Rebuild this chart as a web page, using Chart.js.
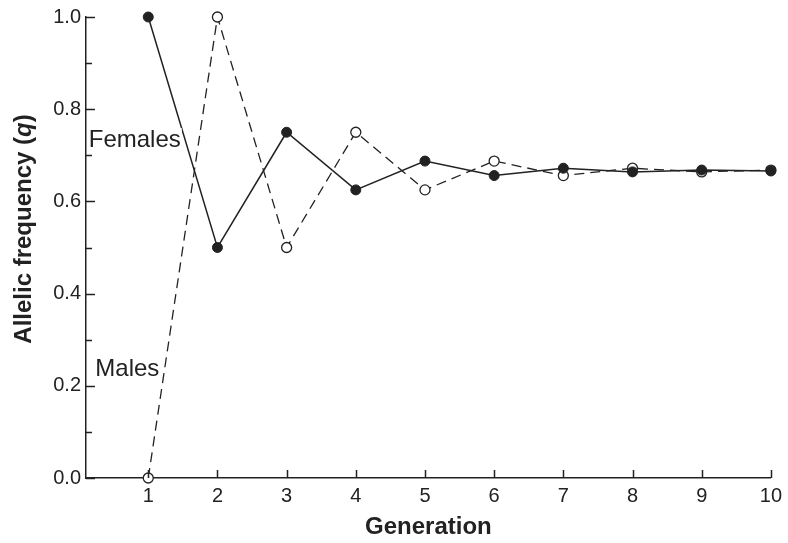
<!DOCTYPE html>
<html>
<head>
<meta charset="utf-8">
<script src="https://cdn.jsdelivr.net/npm/chart.js@4.4.1/dist/chart.umd.min.js"></script>
<style>
  html, body { margin: 0; padding: 0; background: #fff; }
  #wrap { width: 788px; height: 543px; position: relative; }
</style>
</head>
<body>
<div id="wrap"><canvas id="grafico"></canvas></div>
<script>
// datos
const generaciones = [1, 2, 3, 4, 5, 6, 7, 8, 9, 10];
const hembras = [1.0, 0.5, 0.75, 0.625, 0.6875, 0.656, 0.672, 0.664, 0.668, 0.666];
const machos = [0.0, 1.0, 0.5, 0.75, 0.625, 0.6875, 0.656, 0.672, 0.664, 0.668];
const xTicks = [1, 2, 3, 4, 5, 6, 7, 8, 9, 10];
const yTicks = [0.0, 0.2, 0.4, 0.6, 0.8, 1.0];
const yMenores = [0.1, 0.3, 0.5, 0.7, 0.9];

const TINTA = '#222';
const FUENTE = '"Liberation Sans", Arial, Helvetica, sans-serif';

// etiquetas de las series, en coordenadas de datos (borde derecho, centro vertical)
const etiquetas = [
  { texto: 'Females', x: 1.47, y: 0.733 },
  { texto: 'Males', x: 1.16, y: 0.236 }
];

// dibuja ticks hacia adentro, titulo del eje y, y etiquetas de series
const extras = {
  id: 'extras',
  afterDraw(chart) {
    const ctx = chart.ctx;
    const xs = chart.scales.x;
    const ys = chart.scales.y;
    const area = chart.chartArea;
    ctx.save();
    ctx.strokeStyle = TINTA;
    ctx.lineWidth = 1.5;
    ctx.beginPath();
    xTicks.forEach(v => {
      const px = Math.round(xs.getPixelForValue(v)) + 0.5;
      ctx.moveTo(px, area.bottom);
      ctx.lineTo(px, area.bottom - 8);
    });
    yTicks.forEach(v => {
      const py = Math.round(ys.getPixelForValue(v)) + 0.5;
      ctx.moveTo(area.left, py);
      ctx.lineTo(area.left + 9, py);
    });
    yMenores.forEach(v => {
      const py = Math.round(ys.getPixelForValue(v)) + 0.5;
      ctx.moveTo(area.left, py);
      ctx.lineTo(area.left + 6, py);
    });
    ctx.stroke();

    // etiquetas Females / Males con fondo blanco
    ctx.font = '24px ' + FUENTE;
    ctx.textAlign = 'right';
    ctx.textBaseline = 'middle';
    etiquetas.forEach(e => {
      const px = xs.getPixelForValue(e.x);
      const py = ys.getPixelForValue(e.y);
      const w = ctx.measureText(e.texto).width;
      ctx.fillStyle = '#fff';
      ctx.fillRect(px - w - 1, py - 12, w + 2, 24);
      ctx.fillStyle = TINTA;
      ctx.fillText(e.texto, px, py);
    });

    // titulo del eje y con la q en cursiva
    const partes = [
      { t: 'Allelic frequency (', f: 'bold 24px ' + FUENTE },
      { t: 'q', f: 'italic bold 24px ' + FUENTE },
      { t: ')', f: 'bold 24px ' + FUENTE }
    ];
    let total = 0;
    partes.forEach(p => { ctx.font = p.f; p.w = ctx.measureText(p.t).width; total += p.w; });
    ctx.translate(24, 229);
    ctx.rotate(-Math.PI / 2);
    ctx.textAlign = 'left';
    ctx.fillStyle = TINTA;
    let x0 = -total / 2;
    partes.forEach(p => { ctx.font = p.f; ctx.fillText(p.t, x0, 0); x0 += p.w; });
    ctx.restore();
  }
};

const ctx = document.getElementById('grafico').getContext('2d');
new Chart(ctx, {
  type: 'line',
  data: {
    datasets: [
      {
        label: 'Females',
        data: generaciones.map((g, i) => ({ x: g, y: hembras[i] })),
        borderColor: TINTA,
        borderWidth: 1.5,
        pointRadius: 5,
        pointBackgroundColor: TINTA,
        pointBorderColor: TINTA,
        pointBorderWidth: 1,
        tension: 0,
        clip: false
      },
      {
        label: 'Males',
        data: generaciones.map((g, i) => ({ x: g, y: machos[i] })),
        borderColor: TINTA,
        borderWidth: 1.3,
        borderDash: [10, 6],
        pointRadius: 5,
        pointBackgroundColor: '#fff',
        pointBorderColor: TINTA,
        pointBorderWidth: 1.3,
        tension: 0,
        clip: false
      }
    ]
  },
  options: {
    responsive: true,
    maintainAspectRatio: false,
    animation: false,
    layout: { padding: { left: 0, top: 17, right: 11, bottom: 0 } },
    plugins: {
      legend: { display: false },
      tooltip: { enabled: false }
    },
    scales: {
      x: {
        type: 'linear',
        min: 0.1,
        max: 10,
        afterBuildTicks: s => { s.ticks = xTicks.map(v => ({ value: v })); },
        afterFit: s => { s.height = 65; },
        grid: { display: true, drawOnChartArea: false, drawTicks: false },
        border: { display: true, color: TINTA, width: 1.5 },
        ticks: {
          color: TINTA,
          font: { family: FUENTE, size: 20 },
          padding: 6,
          maxRotation: 0,
          autoSkip: false,
          callback: v => String(v)
        },
        title: {
          display: true,
          text: 'Generation',
          color: TINTA,
          font: { family: FUENTE, size: 24, weight: 'bold' },
          padding: { top: 0, bottom: 1 }
        }
      },
      y: {
        min: 0,
        max: 1,
        afterBuildTicks: s => { s.ticks = yTicks.map(v => ({ value: v })); },
        afterFit: s => { s.width = 86; },
        grid: { display: true, drawOnChartArea: false, drawTicks: false },
        border: { display: true, color: TINTA, width: 1.5 },
        ticks: {
          color: TINTA,
          font: { family: FUENTE, size: 20 },
          padding: 5,
          autoSkip: false,
          callback: v => v.toFixed(1)
        }
      }
    }
  },
  plugins: [extras]
});
</script>
</body>
</html>
